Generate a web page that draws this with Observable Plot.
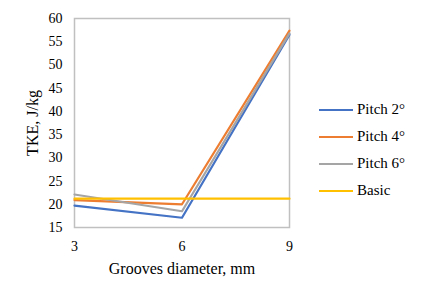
<!DOCTYPE html>
<html><head><meta charset="utf-8">
<script src="https://cdn.jsdelivr.net/npm/d3@7"></script>
<script src="https://cdn.jsdelivr.net/npm/@observablehq/plot@0.6"></script>
<style>
body{margin:0;background:#fff;font-family:"Liberation Serif",serif;}
#wrap{position:relative;width:424px;height:300px;}
#legend{position:absolute;left:319px;top:96px;font:15px "Liberation Serif",serif;color:#000;}
.item{display:flex;align-items:center;height:27px;}
.sw{width:34px;height:2px;margin-right:4px;}
</style></head>
<body><div id="wrap"></div>
<script>
const diameters = [3, 6, 9];
const series = ["Pitch 2°", "Pitch 4°", "Pitch 6°", "Basic"];
const colors = ["#4472C4", "#ED7D31", "#A5A5A5", "#FFC000"];
const pitch2 = [19.7, 17.1, 56.5];
const pitch4 = [20.9, 20.0, 57.4];
const pitch6 = [22.1, 18.5, 56.8];
const basic = [21.2, 21.2, 21.2];
const yTicks = [15, 20, 25, 30, 35, 40, 45, 50, 55, 60];
const xLabel = "Grooves diameter, mm";
const yLabel = "TKE, J/kg";

const values = [pitch2, pitch4, pitch6, basic];
const data = [];
series.forEach((s, i) => diameters.forEach((d, j) => data.push({series: s, x: d, y: values[i][j]})));

const plot = Plot.plot({
  width: 424, height: 300,
  marginLeft: 74, marginRight: 135, marginTop: 18, marginBottom: 73,
  style: {fontFamily: "Liberation Serif, serif", fontSize: "14px", color: "#000", background: "#fff"},
  x: {domain: [3, 9], label: null},
  y: {domain: [15, 60], label: null},
  color: {domain: series, range: colors},
  marks: [
    Plot.frame({stroke: "#c0c0c0", strokeWidth: 1.5}),
    Plot.axisX({ticks: diameters, tickFormat: d3.format("d"), tickSize: 0, tickPadding: 14, fontSize: 14, label: null}),
    Plot.axisY({ticks: yTicks, tickFormat: d3.format("d"), tickSize: 0, tickPadding: 12, fontSize: 14, label: null}),
    Plot.axisX({ticks: [], label: xLabel, labelAnchor: "center", labelOffset: 46, labelArrow: "none", fontSize: 16}),
    Plot.axisY({ticks: [], label: yLabel, labelAnchor: "center", labelOffset: 48, labelArrow: "none", fontSize: 16}),
    Plot.line(data, {x: "x", y: "y", z: "series", stroke: "series", strokeWidth: 2.2})
  ]
});
const wrap = document.getElementById("wrap");
wrap.appendChild(plot);
const leg = document.createElement("div");
leg.id = "legend";
series.forEach((s, i) => {
  const it = document.createElement("div"); it.className = "item";
  const sw = document.createElement("div"); sw.className = "sw"; sw.style.background = colors[i];
  const tx = document.createElement("span"); tx.textContent = s;
  it.appendChild(sw); it.appendChild(tx); leg.appendChild(it);
});
wrap.appendChild(leg);
</script></body></html>
